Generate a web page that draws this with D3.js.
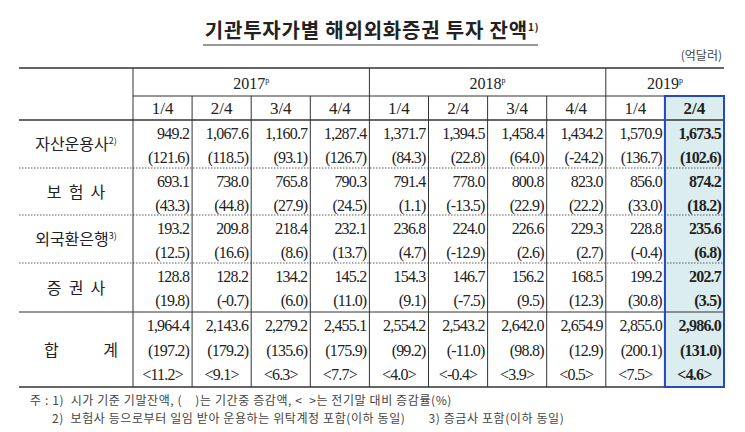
<!DOCTYPE html><html><head><meta charset="utf-8"><script src="https://cdn.jsdelivr.net/npm/d3@7"></script>
<style>body{margin:0;background:#fff}</style></head><body><svg id="c" width="745" height="432"></svg>
<script>
const title="기관투자가별 해외외화증권 투자 잔액";
const unit="(억달러)";
const years=[{y:"2017",n:4},{y:"2018",n:4},{y:"2019",n:2}];
const quarters=["1/4","2/4","3/4","4/4","1/4","2/4","3/4","4/4","1/4","2/4"];
const categories=["자산운용사","보  험  사","외국환은행","증  권  사","합        계"];
const catNotes=["2)","","3)","",""];
const levels=[
 ["949.2","1,067.6","1,160.7","1,287.4","1,371.7","1,394.5","1,458.4","1,434.2","1,570.9","1,673.5"],
 ["693.1","738.0","765.8","790.3","791.4","778.0","800.8","823.0","856.0","874.2"],
 ["193.2","209.8","218.4","232.1","236.8","224.0","226.6","229.3","228.8","235.6"],
 ["128.8","128.2","134.2","145.2","154.3","146.7","156.2","168.5","199.2","202.7"],
 ["1,964.4","2,143.6","2,279.2","2,455.1","2,554.2","2,543.2","2,642.0","2,654.9","2,855.0","2,986.0"]];
const changes=[
 ["(121.6)","(118.5)","(93.1)","(126.7)","(84.3)","(22.8)","(64.0)","(-24.2)","(136.7)","(102.6)"],
 ["(43.3)","(44.8)","(27.9)","(24.5)","(1.1)","(-13.5)","(22.9)","(22.2)","(33.0)","(18.2)"],
 ["(12.5)","(16.6)","(8.6)","(13.7)","(4.7)","(-12.9)","(2.6)","(2.7)","(-0.4)","(6.8)"],
 ["(19.8)","(-0.7)","(6.0)","(11.0)","(9.1)","(-7.5)","(9.5)","(12.3)","(30.8)","(3.5)"],
 ["(197.2)","(179.2)","(135.6)","(175.9)","(99.2)","(-11.0)","(98.8)","(12.9)","(200.1)","(131.0)"]];
const rates=["<11.2>","<9.1>","<6.3>","<7.7>","<4.0>","<-0.4>","<3.9>","<0.5>","<7.5>","<4.6>"];
const notes=["주 : 1)  시가 기준 기말잔액, (    )는 기간중 증감액, <  >는 전기말 대비 증감률(%)",
 "2)  보험사 등으로부터 일임 받아 운용하는 위탁계정 포함(이하 동일)       3) 증금사 포함(이하 동일)"];

const svg=d3.select("#c");
const K="'Noto Sans CJK KR',sans-serif", S="'Liberation Serif',serif";
const L=19,R=724,labR=133;
const x=d3.scaleBand().domain(d3.range(10)).range([labR,R]);
const rowY=d3.scaleOrdinal().domain(d3.range(5)).range([120,168,215,263,312]);
const rowH=[48,47,48,49,75];
svg.append("rect").attr("x",x(9)).attr("y",96).attr("width",x.bandwidth()).attr("height",387-96).attr("fill","#dcedf0");
svg.append("text").attr("x",372).attr("y",38).attr("text-anchor","middle").attr("font-family",K).attr("font-size",20).attr("letter-spacing",0.8).attr("font-weight",700).attr("fill","#222").attr("xml:space","preserve").text(title)
 .append("tspan").attr("dy",-7).attr("font-size",10).text("1)");
svg.append("line").attr("x1",203).attr("x2",538).attr("y1",45).attr("y2",45).attr("stroke","#333").attr("stroke-width",1.2);
svg.append("text").attr("x",722).attr("y",60).attr("text-anchor","end").attr("font-family",K).attr("font-size",12).attr("fill","#444").text(unit);
const ln=(x1,y1,x2,y2,w,d)=>svg.append("line").attr("x1",x1).attr("y1",y1).attr("x2",x2).attr("y2",y2).attr("stroke","#333").attr("stroke-width",w||1).attr("stroke-dasharray",d||null);
ln(L,68,R,68,1.6); ln(labR,96,R,96,1); ln(L,120,R,120,1.6); ln(L,387,R,387,1.6);
[168,215,263].forEach(y=>ln(L,y,R,y,0.8,"1.5,1.5")); ln(L,312,R,312,1);
d3.range(10).forEach(i=>{ln(x(i),(i%4===0)?68:96,x(i),387,1);});
let ci=0; years.forEach(g=>{const cx=(x(ci)+ (ci+g.n<10?x(ci+g.n):R))/2;
 svg.append("text").attr("x",cx).attr("y",89).attr("text-anchor","middle").attr("font-family",S).attr("font-size",16).attr("fill","#222").text(g.y).append("tspan").attr("dy",-6).attr("font-size",8).text("p");
 ci+=g.n;});
quarters.forEach((q,i)=>svg.append("text").attr("x",x(i)+x.bandwidth()/2).attr("y",114).attr("text-anchor","middle").attr("font-family",S).attr("font-size",17).attr("font-weight",i===9?700:400).attr("fill","#222").text(q));
categories.forEach((c,r)=>{
 const y0=rowY(r),h=rowH[r];
 const t=svg.append("text").attr("x",r===4?44:76).attr("y",y0+h/2+6).attr("text-anchor",r===4?"start":"middle").attr("font-family",K).attr("font-size",16).attr("fill","#222").attr("xml:space","preserve").text(r===4?"합":c);
 if(r===4) svg.append("text").attr("x",118).attr("y",y0+h/2+6).attr("text-anchor","end").attr("font-family",K).attr("font-size",16).attr("fill","#222").text("계");
 if(catNotes[r]) t.append("tspan").attr("dy",-6).attr("font-size",9).text(catNotes[r]);
 const lines=r===4?[levels[r],changes[r],rates]:[levels[r],changes[r]];
 const step=r===4?24.5:23.5, first=y0+19;
 lines.forEach((arr,k)=>arr.forEach((v,i)=>{
  svg.append("text").attr("x",k===2?x(i)+x.bandwidth()/2:x(i)+x.bandwidth()-3).attr("y",first+k*step).attr("text-anchor",k===2?"middle":"end")
   .attr("font-family",S).attr("font-size",16).attr("letter-spacing",-0.8).attr("font-weight",i===9?700:400).attr("fill","#222").text(v);
 }));
});
svg.append("rect").attr("x",x(9)).attr("y",96).attr("width",x.bandwidth()).attr("height",387-96).attr("fill","none").attr("stroke","#2449c0").attr("stroke-width",2);
notes.forEach((n,i)=>svg.append("text").attr("x",i?52:30).attr("y",405+i*18).attr("font-family",K).attr("font-size",12).attr("letter-spacing",0.6).attr("fill","#444").attr("xml:space","preserve").text(n));
</script></body></html>
